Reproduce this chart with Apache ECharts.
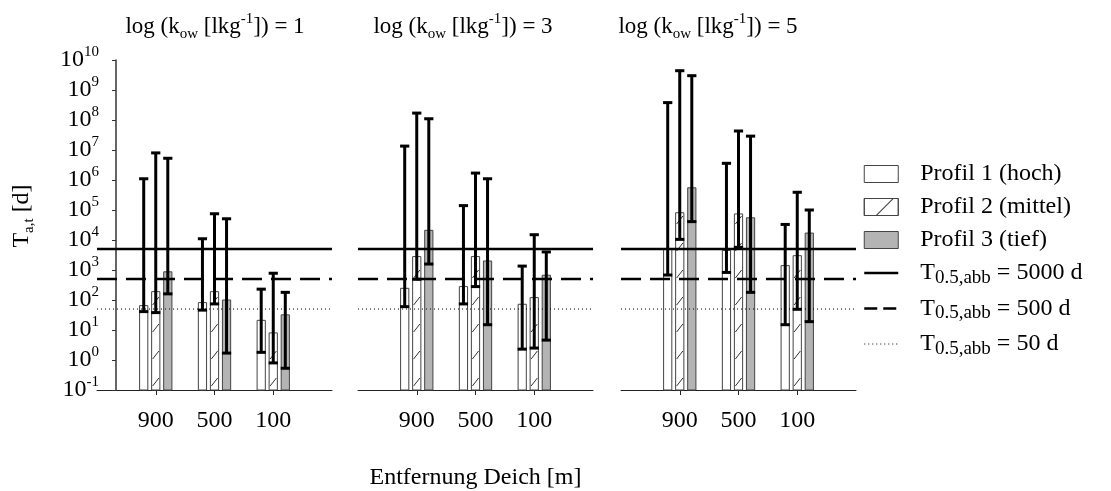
<!DOCTYPE html>
<html>
<head>
<meta charset="utf-8">
<script src="https://cdn.jsdelivr.net/npm/echarts@6/dist/echarts.min.js"></script>
<style>
  html, body { margin: 0; padding: 0; background: #fff; }
  #chart { width: 1111px; height: 491px; }
</style>
</head>
<body>
<div id="chart"></div>
<script>
// Distance to the dike (category axis of every panel)
const categories = ['900', '500', '100'];
// log(k_ow) of the three panels
const kowValues = [1, 3, 5];
const profileNames = ['Profil 1 (hoch)', 'Profil 2 (mittel)', 'Profil 3 (tief)'];

// T_a,t [d]: rows = Profil 1..3, columns = 900 / 500 / 100 m
const kow1Mean = [[65, 82, 21], [190, 190, 8], [870, 100, 32]];
const kow1Low  = [[41, 46, 1.8], [38, 74, 0.8], [160, 1.7, 0.53]];
const kow1High = [[1.1e6, 1.1e4, 230], [8e6, 7.5e4, 780], [5.3e6, 5.1e4, 180]];

const kow3Mean = [[245, 280, 72], [2800, 2800, 120], [2.1e4, 2000, 670]];
const kow3Low  = [[60, 74, 2.3], [490, 280, 2.5], [1580, 15, 4.6]];
const kow3High = [[1.35e7, 1.4e5, 1350], [1.7e8, 1.7e6, 1.5e4], [1.1e8, 1.1e6, 4000]];

const kow5Mean = [[5000, 4500, 1400], [8.1e4, 7.4e4, 3000], [5.5e5, 5.5e4, 1.7e4]];
const kow5Low  = [[680, 830, 15], [1.05e4, 5700, 49], [4.1e4, 180, 19]];
const kow5High = [[3.8e8, 3.6e6, 3.3e4], [4.4e9, 4.3e7, 3.9e5], [3e9, 2.9e7, 1e5]];

// Degradation half-lives drawn as reference lines
const halfLives = [5000, 500, 50];
const halfLifeNames = ['T0.5,abb = 5000 d', 'T0.5,abb = 500 d', 'T0.5,abb = 50 d'];

// Y axis ticks (decades)
const yTickValues = [0.1, 1, 10, 1e2, 1e3, 1e4, 1e5, 1e6, 1e7, 1e8, 1e9, 1e10];
const Y_MIN = 0.1, Y_MAX = 1e10;

const panels = [
  { mean: kow1Mean, low: kow1Low, high: kow1High },
  { mean: kow3Mean, low: kow3Low, high: kow3High },
  { mean: kow5Mean, low: kow5Low, high: kow5High }
];

const FONT = '"Liberation Serif", "Times New Roman", serif';
const PANEL_LEFT = [97, 358, 621];
const PANEL_WIDTH = 235;
const PLOT_TOP = 60, PLOT_HEIGHT = 330;
const TITLE_CENTER = [215, 463, 708];
const FILLS = ['#ffffff', '#ffffff', '#b4b4b4'];
const LINE_STYLES = [
  { color: '#000', width: 2.5, type: 'solid' },
  { color: '#000', width: 2.5, type: [20, 9] },
  { color: '#000', width: 1, type: [1, 3] }
];

// bar with whisker; profile picks the offset inside the category
function makeRenderer(profile) {
  return function (params, api) {
    const idx = api.value(0);
    const basePt = api.coord([idx, Y_MIN]);
    const step = api.coord([idx + 1, Y_MIN])[0] - basePt[0];
    const cx = basePt[0] + (profile - 1) * step * 0.205;
    const bw = step * 0.14;
    const x0 = cx - bw / 2;
    const yBase = basePt[1];
    const yMean = api.coord([idx, api.value(1)])[1];
    const yLow = api.coord([idx, api.value(2)])[1];
    const yHigh = api.coord([idx, api.value(3)])[1];
    const children = [{
      type: 'rect',
      shape: { x: x0, y: yMean, width: bw, height: yBase - yMean },
      style: { fill: FILLS[profile], stroke: '#444', lineWidth: 1 }
    }];
    if (profile === 1) {
      for (let y = yBase - 8; y - 5 > yMean; y -= 27) {
        children.push({
          type: 'line',
          shape: { x1: x0 + 1, y1: y + 4, x2: x0 + bw - 1, y2: y - 4 },
          style: { stroke: '#333', lineWidth: 1 }
        });
      }
    }
    const half = bw / 2 + 0.5;
    children.push(
      { type: 'line', shape: { x1: cx, y1: yLow, x2: cx, y2: yHigh }, style: { stroke: '#000', lineWidth: 3 } },
      { type: 'line', shape: { x1: cx - half, y1: yHigh, x2: cx + half, y2: yHigh }, style: { stroke: '#000', lineWidth: 3 } },
      { type: 'line', shape: { x1: cx - half, y1: yLow, x2: cx + half, y2: yLow }, style: { stroke: '#000', lineWidth: 3 } }
    );
    return { type: 'group', children: children };
  };
}

const grids = PANEL_LEFT.map(l => ({
  left: l, top: PLOT_TOP, width: PANEL_WIDTH, height: PLOT_HEIGHT, outerBoundsMode: 'none'
}));
grids.push({ left: 116, top: PLOT_TOP, width: 217, height: PLOT_HEIGHT, outerBoundsMode: 'none' });

const xAxes = PANEL_LEFT.map((l, k) => ({
  gridIndex: k,
  type: 'value',
  min: -1,
  max: 3,
  name: k === 1 ? 'Entfernung Deich [m]' : '',
  nameLocation: 'middle',
  nameGap: 76,
  nameTextStyle: { fontFamily: FONT, fontSize: 24, color: '#000' },
  axisLine: { show: true, onZero: false, lineStyle: { color: '#222', width: 1 } },
  axisTick: { show: true, customValues: [0, 1, 2], length: 5, lineStyle: { color: '#222' } },
  axisLabel: {
    customValues: [0, 1, 2],
    formatter: v => categories[Math.round(v)],
    fontFamily: FONT, fontSize: 24, color: '#000', margin: 19
  },
  splitLine: { show: false }
}));
xAxes.push({ gridIndex: 3, type: 'value', min: 0, max: 1, show: false });

const yAxes = PANEL_LEFT.map((l, k) => ({
  gridIndex: k, type: 'log', logBase: 10, min: Y_MIN, max: Y_MAX, show: false
}));
yAxes.push({
  gridIndex: 3,
  type: 'log',
  logBase: 10,
  min: Y_MIN,
  max: Y_MAX,
  axisLine: { show: true, onZero: false, lineStyle: { color: '#333', width: 1.5 } },
  axisTick: { show: true, customValues: yTickValues, length: 4, lineStyle: { color: '#333' } },
  axisLabel: {
    customValues: yTickValues,
    margin: 17,
    formatter: v => '{b|10}{s|' + Math.round(Math.log10(v)) + '}',
    rich: {
      b: { fontFamily: FONT, fontSize: 24, lineHeight: 30, color: '#000' },
      s: { fontFamily: FONT, fontSize: 15, color: '#000', verticalAlign: 'top' }
    }
  },
  splitLine: { show: false }
});

const series = [];
panels.forEach((panel, k) => {
  for (let p = 0; p < 3; p++) {
    series.push({
      type: 'custom',
      name: profileNames[p],
      xAxisIndex: k,
      yAxisIndex: k,
      z: 2,
      clip: false,
      itemStyle: { color: FILLS[p] },
      data: categories.map((c, i) => [i, panel.mean[p][i], panel.low[p][i], panel.high[p][i]]),
      encode: { x: 0, y: [1, 2, 3] },
      renderItem: makeRenderer(p)
    });
  }
  halfLives.forEach((hl, h) => {
    series.push({
      type: 'line',
      name: halfLifeNames[h],
      xAxisIndex: k,
      yAxisIndex: k,
      z: 5,
      silent: true,
      symbol: 'none',
      lineStyle: LINE_STYLES[h],
      itemStyle: { color: '#000' },
      data: [[-1, hl], [3, hl]]
    });
  });
});

const legendData = [
  { name: profileNames[0], icon: 'rect', itemStyle: { color: '#fff', borderColor: '#444', borderWidth: 1 } },
  { name: profileNames[1], icon: 'rect', itemStyle: {
      color: '#fff', borderColor: '#444', borderWidth: 1,
      decal: { symbol: 'rect', symbolSize: 1, dashArrayX: [1, 0], dashArrayY: [1, 19], rotation: -Math.PI / 4, color: '#333' } } },
  { name: profileNames[2], icon: 'rect', itemStyle: { color: '#b4b4b4', borderColor: '#444', borderWidth: 1 } },
  { name: halfLifeNames[0], itemStyle: { opacity: 0 }, lineStyle: { color: '#000', width: 2.5, type: 'solid' } },
  { name: halfLifeNames[1], itemStyle: { opacity: 0 }, lineStyle: { color: '#000', width: 2.5, type: [13, 6] } },
  { name: halfLifeNames[2], itemStyle: { opacity: 0 }, lineStyle: { color: '#000', width: 1, type: [1, 3] } }
];

const option = {
  animation: false,
  backgroundColor: '#fff',
  grid: grids,
  xAxis: xAxes,
  yAxis: yAxes,
  legend: {
    orient: 'vertical',
    left: 858,
    top: 157,
    itemWidth: 34,
    itemHeight: 17,
    itemGap: 9,
    data: legendData,
    formatter: name => name.startsWith('T0.5,abb')
      ? '{m|T}{sub|0.5,abb}{m|' + name.slice(8) + '}'
      : '{p|' + name + '}',
    textStyle: {
      padding: [0, 0, 0, 17],
      fontFamily: FONT, fontSize: 24, color: '#000',
      rich: {
        p: { fontFamily: FONT, fontSize: 24, lineHeight: 24, color: '#000' },
        m: { fontFamily: FONT, fontSize: 24, lineHeight: 29, color: '#000' },
        sub: { fontFamily: FONT, fontSize: 19, color: '#000', verticalAlign: 'bottom' }
      }
    }
  },
  graphic: [
    ...kowValues.map((kv, k) => ({
      type: 'text',
      x: TITLE_CENTER[k],
      y: 27,
      style: {
        text: '{m|log (k}{sub|ow}{m| [lkg}{sup|-1}{m|]) = ' + kv + '}',
        align: 'center',
        verticalAlign: 'middle',
        rich: {
          m: { fontFamily: FONT, fontSize: 23, lineHeight: 30, fill: '#000' },
          sub: { fontFamily: FONT, fontSize: 15, fill: '#000', verticalAlign: 'bottom' },
          sup: { fontFamily: FONT, fontSize: 15, fill: '#000', verticalAlign: 'top' }
        }
      }
    })),
    {
      type: 'text',
      x: 22,
      y: 216,
      rotation: Math.PI / 2,
      style: {
        text: '{m|T}{sub|a,t}{m| [d]}',
        align: 'center',
        verticalAlign: 'middle',
        rich: {
          m: { fontFamily: FONT, fontSize: 24, lineHeight: 30, fill: '#000' },
          sub: { fontFamily: FONT, fontSize: 15, fill: '#000', verticalAlign: 'bottom' }
        }
      }
    }
  ],
  series: series
};

const chart = echarts.init(document.getElementById('chart'), null, { renderer: 'canvas' });
chart.setOption(option);
</script>
</body>
</html>
